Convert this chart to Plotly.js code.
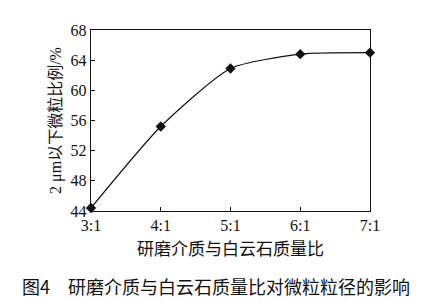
<!DOCTYPE html>
<html><head><meta charset="utf-8">
<script src="https://cdn.plot.ly/plotly-3.0.1.min.js"></script>
<style>body{margin:0;background:#fff}#c{width:434px;height:302px}</style>
</head><body><div id="c"></div>
<script>
var xPos = [3, 4, 5, 6, 7];
var xLabels = ['3:1', '4:1', '5:1', '6:1', '7:1'];
var yValues = [44.4, 55.2, 62.9, 64.8, 65.0];
var yTicks = [44, 48, 52, 56, 60, 64, 68];
var xTitle = '研磨介质与白云石质量比';
var yTitle = '2 μm以下微粒比例/%';
var caption = '图4　研磨介质与白云石质量比对微粒粒径的影响';

var serif = 'Liberation Serif, Noto Sans CJK SC, serif';
var trace = {
  x: xPos, y: yValues, type: 'scatter', mode: 'lines+markers',
  line: {color: '#111', width: 1.2, shape: 'spline', smoothing: 0.6},
  marker: {symbol: 'diamond', size: 8, color: '#111'},
  cliponaxis: false, showlegend: false
};
var layout = {
  width: 434, height: 302,
  margin: {l: 91, r: 64, t: 30, b: 91},
  paper_bgcolor: '#fff', plot_bgcolor: '#fff',
  font: {family: serif, color: '#111'},
  xaxis: {
    range: [3, 7], tickvals: xPos, ticktext: xLabels,
    ticks: 'inside', ticklen: 4, tickcolor: '#111',
    showline: true, linecolor: '#111', linewidth: 1.2, mirror: true,
    showgrid: false, zeroline: false,
    tickfont: {size: 16, family: serif},
    title: {text: xTitle, font: {size: 17, family: 'Noto Sans CJK SC'}, standoff: 9}
  },
  yaxis: {
    range: [44, 68], tickvals: yTicks,
    ticks: 'inside', ticklen: 4, tickcolor: '#111',
    showline: true, linecolor: '#111', linewidth: 1.2, mirror: true,
    showgrid: false, zeroline: false,
    tickfont: {size: 16, family: serif},
    title: {text: yTitle, font: {size: 16, family: serif}, standoff: 5}
  },
  annotations: [{
    text: caption, xref: 'paper', yref: 'paper', x: -0.255, y: 0, xanchor: 'left', yanchor: 'middle',
    yshift: -75, showarrow: false, font: {size: 18, family: 'Noto Sans CJK SC', color: '#111'}
  }]
};
Plotly.newPlot('c', [trace], layout, {staticPlot: true});
</script></body></html>
